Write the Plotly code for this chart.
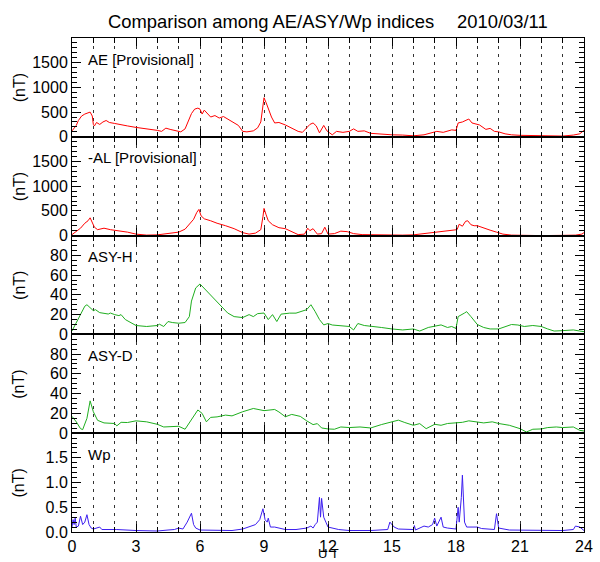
import plotly.graph_objects as go
from plotly.subplots import make_subplots

# ---------------- data ----------------
ae_hours = [0.0, 0.1, 0.2, 0.3, 0.45, 0.6, 0.75, 0.85, 0.95, 1.0, 1.05, 1.15, 1.3, 1.45, 1.6, 1.75,
            2.0, 2.3, 2.6, 3.0, 3.3, 3.6, 4.0, 4.2, 4.4, 4.6, 4.9, 5.1, 5.3, 5.45, 5.6, 5.75, 5.9,
            6.0, 6.1, 6.2, 6.3, 6.5, 6.7, 6.9, 7.1, 7.3, 7.5, 7.7, 7.8, 8.0, 8.2, 8.5, 8.7, 8.85,
            8.95, 9.0, 9.1, 9.2, 9.35, 9.5, 9.7, 10.0, 10.3, 10.6, 10.8, 11.0, 11.15, 11.3, 11.45,
            11.6, 11.8, 11.95, 12.2, 12.4, 12.7, 13.0, 13.2, 13.4, 13.7, 14.0, 14.3, 14.7, 15.0,
            15.5, 16.0, 16.5, 16.8, 17.1, 17.4, 17.8, 18.0, 18.1, 18.3, 18.5, 18.6, 18.75, 18.9,
            19.1, 19.4, 19.6, 19.8, 20.0, 20.3, 20.6, 21.0, 21.5, 22.0, 22.5, 23.0, 23.5, 23.8, 24.0]
ae_vals = [120, 180, 230, 330, 420, 460, 490, 500, 420, 250, 220, 290, 250, 300, 330, 290,
           270, 240, 220, 190, 175, 150, 130, 110, 175, 150, 115, 100, 160, 320, 470, 560, 580,
           560, 460, 540, 500, 400, 430, 380, 410, 360, 320, 260, 230, 110, 100, 120, 180, 300,
           600, 790, 690, 560, 400, 280, 290, 240, 170, 110, 90, 180, 250, 280, 220,
           80, 230, 120, 40, 110, 90, 110, 160, 110, 120, 70, 60, 45, 40,
           35, 20, 40, 70, 110, 90, 140, 130, 280, 300, 340, 360, 280, 260,
           240, 150, 170, 110, 100, 60, 40, 30, 25, 15, 10, 15, 35, 60, 130]

al_hours = [0.0, 0.2, 0.4, 0.6, 0.75, 0.85, 0.95, 1.05, 1.2, 1.5, 1.8, 2.2, 2.6, 3.0, 3.5, 4.0,
            4.5, 5.0, 5.3, 5.5, 5.7, 5.85, 5.95, 6.05, 6.2, 6.5, 6.8, 7.2, 7.6, 8.0, 8.3, 8.6,
            8.85, 8.95, 9.0, 9.1, 9.2, 9.4, 9.7, 10.0, 10.3, 10.6, 10.9, 11.05, 11.15, 11.3, 11.5,
            11.7, 11.85, 12.0, 12.3, 12.6, 12.9, 13.2, 13.6, 14.0, 14.5, 15.0, 15.5, 16.0, 16.5,
            17.0, 17.5, 17.9, 18.05, 18.15, 18.3, 18.45, 18.55, 18.7, 18.85, 19.0, 19.3, 19.6,
            19.9, 20.2, 20.6, 21.0, 22.0, 23.0, 23.6, 23.9, 24.0]
al_vals = [20, 80, 150, 250, 300, 360, 260, 170, 120, 150, 120, 100, 70, 30, 10, 15,
           40, 70, 130, 230, 330, 470, 530, 400, 340, 300, 250, 200, 140, 60, 30, 50,
           120, 380, 550, 420, 300, 220, 160, 140, 80, 20, 30, 150, 100, 140, 30,
           40, 170, 30, 40, 90, 80, 40, 20, 15, 10, 5, 10, 15, 40,
           60, 80, 100, 120, 230, 190, 290, 300, 220, 200, 200, 150, 110,
           70, 30, 10, 5, 0, 5, 10, 30, 60]

asyh_hours = [0.0, 0.3, 0.6, 0.7, 0.8, 1.0, 1.1, 1.3, 1.7, 1.8, 2.0, 2.2, 2.3, 2.5, 3.0, 3.5,
              4.0, 4.1, 4.3, 4.5, 4.7, 5.0, 5.3, 5.5, 5.6, 5.8, 6.0, 6.3, 6.6, 7.0, 7.3, 7.6,
              8.0, 8.3, 8.5, 8.7, 9.0, 9.2, 9.4, 9.6, 9.8, 10.2, 10.5, 11.0, 11.2, 11.4, 11.6,
              11.8, 12.0, 12.2, 12.7, 13.0, 13.2, 13.4, 13.7, 14.0, 14.5, 15.0, 15.5, 16.0, 16.3,
              16.7, 17.0, 17.3, 17.6, 17.8, 18.0, 18.1, 18.4, 18.5, 18.7, 19.0, 19.3, 19.6, 20.0,
              20.3, 20.6, 20.9, 21.2, 21.6, 22.0, 22.3, 22.6, 23.0, 23.5, 23.8, 24.0]
asyh_vals = [3.5, 16, 28.5, 30, 28, 24, 25, 22, 20.6, 21.6, 20, 19, 20, 15, 9, 8,
             9, 10.3, 8, 13, 12, 11.3, 12, 18, 33.7, 47, 51, 44, 37, 28.5, 21.6, 18,
             17, 20, 18, 21, 21.6, 15, 20, 13, 20.5, 21.5, 21.5, 25, 30, 23, 15,
             9.6, 11, 9.5, 9, 8, 4.5, 11, 9, 8, 7, 5.5, 4.5, 5.5, 3.4,
             7, 8, 9.6, 7, 8, 6, 18, 21.6, 23, 18, 10, 7, 5.5, 5.5,
             8, 10, 9.5, 8, 9, 8, 5.5, 3.4, 3.8, 4.5, 3.4, 2.8]

asyd_hours = [0.0, 0.2, 0.4, 0.5, 0.7, 0.8, 0.85, 1.0, 1.2, 1.5, 2.0, 2.1, 2.3, 2.6, 3.0, 3.5,
              4.0, 4.3, 5.0, 5.3, 5.5, 5.7, 5.9, 6.1, 6.3, 6.5, 6.8, 7.2, 7.5, 8.0, 8.5, 9.0,
              9.3, 9.5, 9.7, 10.0, 10.3, 10.7, 11.0, 11.3, 11.5, 11.7, 12.0, 12.3, 12.6, 13.0,
              13.5, 14.0, 14.5, 15.0, 15.3, 15.6, 16.0, 16.3, 16.6, 17.0, 17.3, 17.6, 18.0, 18.3,
              18.6, 19.0, 19.3, 19.7, 20.0, 20.5, 21.0, 21.3, 21.6, 22.0, 22.3, 22.7, 23.0, 23.5,
              23.8, 24.0]
asyd_vals = [17, 11.5, 4.6, 3.6, 15, 28.6, 32.7, 21.7, 13, 10.4, 9.8, 7.4, 11, 10.8, 12.5, 11.5,
             9, 6.3, 7, 4, 10.5, 18, 23.5, 20, 11.5, 16, 16.5, 18.3, 17.5, 21.7, 25, 22.8,
             23.5, 24, 21.5, 16.6, 19, 17, 12.5, 8.7, 9.7, 5.3, 4.3, 4, 6.3, 5.7,
             6.3, 5.3, 8.7, 12, 13.2, 10.8, 8, 9.7, 4.6, 9, 8, 9.8, 10.4, 11,
             12.5, 11.5, 10.4, 11.5, 9.8, 8, 4.6, 1.2, 4, 4.3, 5.7, 6.3, 5.7, 6.3,
             2.9, 2.2]

wp_hours = [0.0, 0.05, 0.1, 0.15, 0.2, 0.3, 0.4, 0.5, 0.6, 0.7, 0.8, 0.9, 1.0, 1.3, 1.4, 2.0,
            2.1, 3.0, 4.0, 4.5, 4.8, 5.0, 5.2, 5.4, 5.5, 5.6, 5.7, 5.8, 6.0, 7.0, 7.5, 8.0,
            8.3, 8.6, 8.8, 8.95, 9.05, 9.15, 9.2, 9.3, 9.5, 10.0, 10.5, 11.0, 11.2, 11.3, 11.4,
            11.5, 11.6, 11.65, 11.7, 11.8, 11.9, 12.0, 12.5, 13.0, 14.0, 14.8, 14.9, 15.0, 15.1,
            15.3, 16.0, 16.05, 16.1, 16.5, 16.7, 16.9, 17.0, 17.1, 17.3, 17.4, 17.6, 18.0, 18.1,
            18.15, 18.25, 18.3, 18.35, 18.4, 18.5, 19.0, 19.2, 19.8, 19.9, 20.0, 20.5, 21.0,
            22.0, 23.0, 23.5, 23.6, 23.8, 24.0]
wp_vals = [0.1, 0.25, 0.15, 0.28, 0.1, 0.12, 0.32, 0.15, 0.2, 0.35, 0.15, 0.08, 0.06, 0.1, 0.05, 0.06,
           0.05, 0.03, 0.02, 0.04, 0.05, 0.08, 0.06, 0.2, 0.3, 0.38, 0.15, 0.08, 0.04, 0.03, 0.03, 0.06,
           0.1, 0.15, 0.25, 0.47, 0.25, 0.2, 0.28, 0.1, 0.1, 0.05, 0.05, 0.08, 0.12, 0.08, 0.15,
           0.2, 0.7, 0.3, 0.68, 0.3, 0.2, 0.1, 0.05, 0.03, 0.03, 0.05, 0.2, 0.15, 0.1,
           0.06, 0.05, 0.13, 0.04, 0.12, 0.1, 0.15, 0.28, 0.12, 0.3, 0.1, 0.08, 0.06, 0.5,
           0.2, 0.7, 1.15, 0.6, 0.2, 0.1, 0.1, 0.07, 0.05, 0.37, 0.08, 0.04, 0.04,
           0.04, 0.03, 0.05, 0.12, 0.1, 0.03]

panel_labels = ["AE [Provisional]", "-AL [Provisional]", "ASY-H", "ASY-D", "Wp"]
title_left = "Comparison among AE/ASY/Wp indices"
title_right = "2010/03/11"
x_title = "U T"
y_unit = "(nT)"

# ---------------- figure ----------------
W, H = 600, 562
ML, MR, MT, MB = 72, 7, 38, 30
PW, PH = W - ML - MR, H - MT - MB

def px_x(p):
    return (p - ML) / PW

def px_y(p):
    return (H - MB - p) / PH

FONT = "Liberation Sans, Arial, Helvetica, sans-serif"
RED = "#ff0000"
GREEN = "#1fae1f"
BLUE = "#3c1ef0"
GRID = "#333333"
DASH = "3px,5px"

fig = make_subplots(rows=5, cols=1, shared_xaxes=True, vertical_spacing=0)

series = [(ae_hours, ae_vals, RED), (al_hours, al_vals, RED),
          (asyh_hours, asyh_vals, GREEN), (asyd_hours, asyd_vals, GREEN),
          (wp_hours, wp_vals, BLUE)]
for i, (xh, yv, col) in enumerate(series):
    fig.add_trace(go.Scatter(x=xh, y=yv, mode="lines", line=dict(color=col, width=1),
                             showlegend=False, hoverinfo="skip"), row=i + 1, col=1)

yspecs = [([0, 1999], 500, 100, None), ([0, 1999], 500, 100, None),
          ([0, 99.9], 20, 5, None), ([0, 99.9], 20, 5, None),
          ([0, 1.999], 0.5, 0.1, ".1f")]
for i, (rng, dt, mdt, fmt) in enumerate(yspecs):
    kw = dict(range=rng, tickmode="linear", tick0=0, dtick=dt, ticks="inside", ticklen=9,
              tickcolor="black", showline=True, linecolor="black", linewidth=1, mirror="ticks",
              showgrid=False, zeroline=False, tickfont=dict(family=FONT, size=16, color="black"),
              minor=dict(tick0=0, dtick=mdt, ticks="inside", ticklen=5, tickcolor="black",
                         showgrid=False))
    if fmt:
        kw["tickformat"] = fmt
    fig.update_yaxes(**kw, row=i + 1, col=1)

fig.update_xaxes(range=[0, 24], tickmode="linear", tick0=0, dtick=3, ticks="inside", ticklen=8,
                 tickcolor="black", showline=True, linecolor="black", linewidth=1, mirror="ticks",
                 showgrid=True, gridcolor=GRID, gridwidth=1, griddash=DASH,
                 zeroline=False, ticklabeloverflow="allow",
                 tickfont=dict(family=FONT, size=16, color="black"),
                 minor=dict(tick0=0, dtick=1, ticks="inside", ticklen=5, tickcolor="black",
                            showgrid=True, gridcolor=GRID, gridwidth=1, griddash=DASH))

annotations = []
panel_h = PH / 5
for i, lab in enumerate(panel_labels):
    top = MT + i * panel_h
    annotations.append(dict(text=lab, xref="paper", yref="paper", x=px_x(87), y=px_y(top + 21),
                            xanchor="left", yanchor="middle", showarrow=False,
                            bgcolor="white", borderpad=0,
                            font=dict(family=FONT, size=15, color="black")))
    annotations.append(dict(text=y_unit, xref="paper", yref="paper", x=px_x(18),
                            y=px_y(top + panel_h / 2), xanchor="center", yanchor="middle",
                            textangle=-90, showarrow=False,
                            font=dict(family=FONT, size=16, color="black")))

annotations.append(dict(text=title_left, xref="paper", yref="paper", x=px_x(107), y=px_y(22),
                        xanchor="left", yanchor="middle", showarrow=False,
                        font=dict(family=FONT, size=18.4, color="black")))
annotations.append(dict(text=title_right, xref="paper", yref="paper", x=px_x(462), y=px_y(22),
                        xanchor="left", yanchor="middle", showarrow=False,
                        font=dict(family=FONT, size=18.4, color="black")))
annotations.append(dict(text=x_title, xref="paper", yref="paper", x=px_x(333), y=px_y(562),
                        xanchor="center", yanchor="bottom", showarrow=False, borderpad=0,
                        font=dict(family=FONT, size=13, color="black")))

fig.update_layout(width=W, height=H, margin=dict(l=ML, r=MR, t=MT, b=MB),
                  paper_bgcolor="white", plot_bgcolor="white", annotations=annotations,
                  font=dict(family=FONT, color="black"))

fig.write_html("out.html", config={"displayModeBar": False},
               post_script="document.body.style.margin='0px';")
